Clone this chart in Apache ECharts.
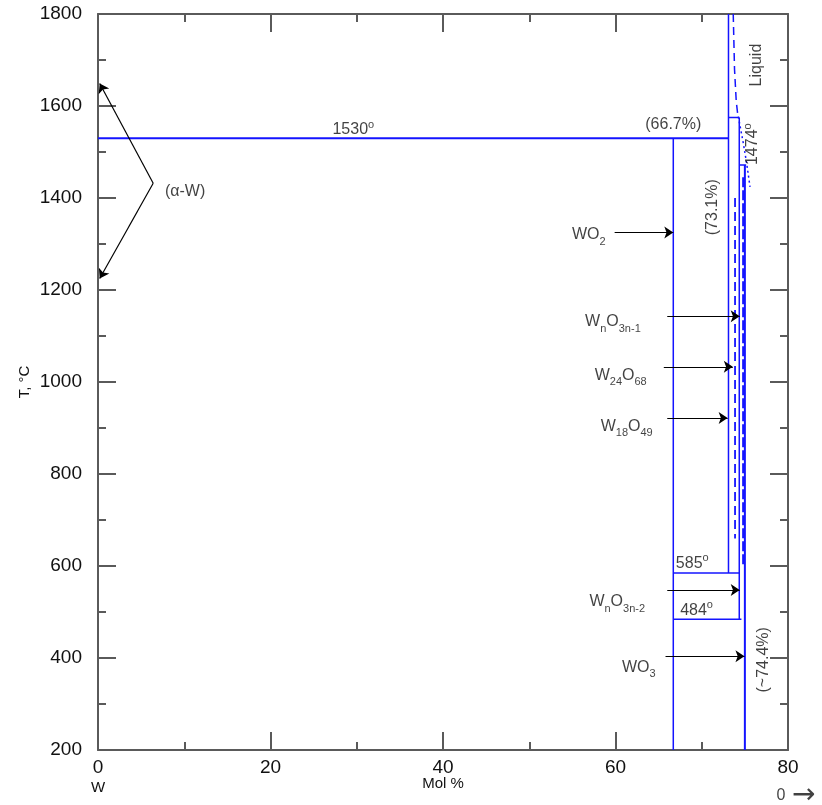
<!DOCTYPE html>
<html><head><meta charset="utf-8">
<script src="https://cdn.jsdelivr.net/npm/echarts@6/dist/echarts.min.js"></script>
<style>html,body{margin:0;padding:0;background:#fff}#c{width:822px;height:805px}</style>
</head><body><div id="c"></div>
<script>
// axis ticks
const xTicks = [0, 20, 40, 60, 80];
const yTicks = [200, 400, 600, 800, 1000, 1200, 1400, 1600, 1800];

// solid phase boundaries  [mol % O, T °C]
const iso1530 = [[0, 1530], [73.1, 1530]];
const wo2Boundary = [[66.7, 200], [66.7, 1530]];
const boundary731 = [[73.1, 1800], [73.1, 585]];
const iso1575 = [[73.1, 1575], [74.35, 1575]];
const boundary7435 = [[74.35, 1575], [74.35, 484]];
const iso1474 = [[74.35, 1472], [75.15, 1472]];
const wo3Boundary = [[75.0, 1472], [75.0, 200]];
const iso585 = [[66.7, 585], [74.35, 585]];
const iso484 = [[66.7, 484], [74.6, 484]];

// dashed / dotted boundaries
const liquidus = [[73.65, 1800], [73.8, 1680], [74.0, 1610], [74.2, 1577]];
const liquidusLow = [[74.24, 1577], [74.82, 1519], [75.21, 1475], [75.6, 1424]];
const dashed7386 = [[73.86, 1400], [73.86, 660]];
const dashed748 = [[74.8, 1445], [74.8, 600]];

// arrows [from, to]
const arrowWO2 = [[59.9, 1325], [66.7, 1325]];
const arrowWnO3n1 = [[66.0, 1143], [74.4, 1143]];
const arrowW24O68 = [[65.6, 1033], [73.6, 1033]];
const arrowW18O49 = [[66.0, 922], [73.0, 922]];
const arrowWnO3n2 = [[66.0, 548], [74.4, 548]];
const arrowWO3 = [[65.8, 404], [74.95, 404]];
const arrowAlphaUp = [[6.4, 1432], [0.2, 1649]];
const arrowAlphaDown = [[6.4, 1432], [0.2, 1225]];

// annotations [x, T, text, rotate]
const notes = [
  [29.6, 1548, '{m|1530}{sup|o}', 0],
  [66.7, 1560, '{m|(66.7%)}', 0],
  [71.2, 1380, '{m|(73.1%)}', 90],
  [76.4, 1689, '{m|Liquid}', 90],
  [75.9, 1517, '{m|1474}{sup|o}', 90],
  [68.9, 606, '{m|585}{sup|o}', 0],
  [69.4, 504, '{m|484}{sup|o}', 0],
  [77.2, 396, '{m|(~74.4%)}', 90],
  [10.1, 1413, '{m|(α-W)}', 0],
  [56.9, 1320, '{m|WO}{s|2}', 0],
  [59.7, 1131, '{m|W}{s|n}{m|O}{s|3n-1}', 0],
  [60.6, 1015, '{m|W}{s|24}{m|O}{s|68}', 0],
  [61.3, 904, '{m|W}{s|18}{m|O}{s|49}', 0],
  [60.2, 522, '{m|W}{s|n}{m|O}{s|3n-2}', 0],
  [62.7, 380, '{m|WO}{s|3}', 0]
];

const BLUE = '#1414ff';
const AX = '#5a5a5a';
const FONT = 'Liberation Sans, Arial, sans-serif';

function seg(data, type, width) {
  return {
    type: 'line', data: data, showSymbol: false, symbol: 'none', silent: true,
    lineStyle: { color: BLUE, width: width || 1.5, type: type || 'solid' },
    animation: false, z: 3
  };
}
function arrows(list) {
  return {
    type: 'lines', coordinateSystem: 'cartesian2d', silent: true, animation: false,
    data: list.map(a => ({ coords: a })),
    symbol: ['none', 'arrow'], symbolSize: 9,
    lineStyle: { color: '#000', width: 1.2, opacity: 1, curveness: 0 }, z: 4
  };
}
const textRich = {
  m: { fontSize: 16, fontFamily: FONT, color: '#111' },
  s: { fontSize: 11, fontFamily: FONT, color: '#111', padding: [14, 0, 0, 0] },
  sup: { fontSize: 11, fontFamily: FONT, color: '#111', padding: [0, 0, 10, 0] }
};

function axisCommon(pos, showLabel, isX) {
  return {
    type: 'value', position: pos, gridIndex: 0,
    min: isX ? xTicks[0] : yTicks[0],
    max: isX ? xTicks[xTicks.length - 1] : yTicks[yTicks.length - 1],
    interval: isX ? xTicks[1] - xTicks[0] : yTicks[1] - yTicks[0],
    axisLine: { show: true, onZero: false, lineStyle: { color: AX, width: 2 } },
    axisTick: { show: true, inside: true, length: 18, lineStyle: { color: AX, width: 2 } },
    minorTick: { show: true, splitNumber: 2, length: 8, lineStyle: { color: AX, width: 2 } },
    splitLine: { show: false },
    axisLabel: { show: showLabel },
  };
}

const xBottom = axisCommon('bottom', true, true);
xBottom.axisLabel = {
  show: true, margin: 8, color: '#111', fontFamily: FONT, fontSize: 19,
  formatter: v => v === 0 ? '{n|0}\n{w|W}' : '{n|' + String(v) + '}',
  rich: { n: { fontSize: 19, lineHeight: 20, fontFamily: FONT, color: '#111' },
          w: { fontSize: 15, lineHeight: 20, fontFamily: FONT, color: '#111' } }
};
xBottom.name = 'Mol %';
xBottom.nameLocation = 'middle';
xBottom.nameGap = 26;
xBottom.nameMoveOverlap = false;
xBottom.nameTextStyle = { fontSize: 15, fontFamily: FONT, color: '#111' };

const xTop = axisCommon('top', false, true);
const yLeft = axisCommon('left', true, false);
yLeft.axisLabel = { show: true, margin: 16, color: '#111', fontFamily: FONT, fontSize: 19,
  formatter: v => String(v) };
yLeft.name = 'T, °C';
yLeft.nameLocation = 'middle';
yLeft.nameRotate = 90;
yLeft.nameGap = 66;
yLeft.nameMoveOverlap = false;
yLeft.nameTextStyle = { fontSize: 15, fontFamily: FONT, color: '#111' };
const yRight = axisCommon('right', false, false);

const chart = echarts.init(document.getElementById('c'), null, { renderer: 'canvas' });
chart.setOption({
  animation: false,
  backgroundColor: '#fff',
  grid: { left: 98, right: 34, top: 14, bottom: 55, containLabel: false, outerBoundsMode: 'none' },
  xAxis: [xBottom, xTop],
  yAxis: [yLeft, yRight],
  series: [
    seg(iso1530, 'solid', 2),
    seg(wo2Boundary), seg(boundary731), seg(iso1575), seg(boundary7435),
    seg(iso1474), seg(wo3Boundary, 'solid', 2), seg(iso585), seg(iso484),
    seg(liquidus, [8, 5], 1.5), seg(liquidusLow, [2, 3], 1.5),
    seg(dashed7386, [9, 5], 1.8), seg(dashed748, [10, 3], 2),
    arrows([arrowWO2, arrowWnO3n1, arrowW24O68, arrowW18O49, arrowWnO3n2, arrowWO3]),
    arrows([arrowAlphaUp, arrowAlphaDown]),
    {
      type: 'scatter', symbolSize: 0, silent: true, animation: false, z: 5,
      data: notes.map(n => ({ value: [n[0], n[1]], label: { formatter: n[2], rotate: n[3] } })),
      label: { show: true, position: 'inside', rich: textRich }
    },
    {
      type: 'scatter', symbolSize: 0, silent: true, animation: false, clip: false,
      data: [[xTicks[xTicks.length - 1], yTicks[0]]],
      label: { show: true, position: 'inside', offset: [8, 46], formatter: '{z|0}  {a|→}',
        rich: { z: { fontSize: 16, fontFamily: FONT, color: '#111' },
                a: { fontSize: 28, fontFamily: 'DejaVu Sans', color: '#111' } } }
    }
  ]
});
</script></body></html>
